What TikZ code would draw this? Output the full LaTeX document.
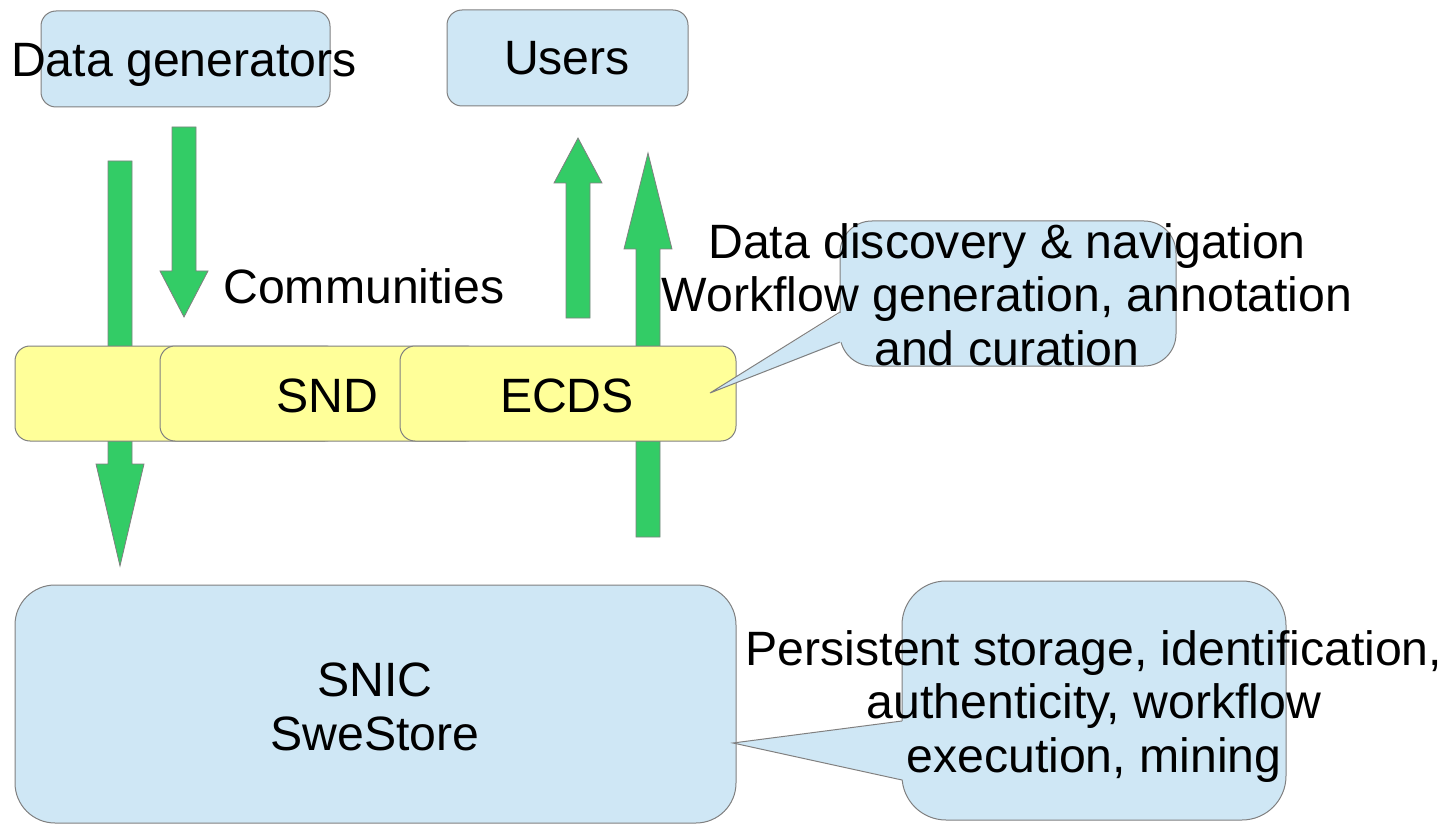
\documentclass[tikz,border=0pt]{standalone}
\usepackage{fontspec}
\setmainfont{Liberation Sans}
\usepackage{tikz}

\definecolor{boxblue}{RGB}{207,231,245}
\definecolor{boxyellow}{RGB}{255,255,153}
\definecolor{flowgreen}{RGB}{51,204,102}
\definecolor{edgegray}{RGB}{128,128,128}

\begin{document}
\begin{tikzpicture}[x=0.5pt, y=-0.5pt,
  every node/.style={font=\fontsize{24.1pt}{26.6pt}\selectfont},
  box/.style={draw=edgegray, line width=0.5pt, inner sep=0pt, rounded corners=7.5pt},
  bluebox/.style={box, fill=boxblue},
  yellowbox/.style={box, fill=boxyellow},
  flow/.style={fill=flowgreen, draw=edgegray, line width=0.4pt},
  pointer/.style={draw=edgegray, line width=0.5pt},
  txt/.style={inner sep=0pt, anchor=base, align=center}]
  \useasboundingbox (0,0) rectangle (1453,824);

  % Top boxes
  \node[bluebox, minimum width=144.5pt, minimum height=48pt] (gen) at (185.5,59) {};
  \node[bluebox, minimum width=120.5pt, minimum height=48pt] (users) at (567.5,58) {};

  % Green block arrows (behind the community boxes)
  % down, long: generators to SweStore
  \filldraw[flow] (108,161) -- (132,161) -- (132,464) -- (144,464) -- (120,566)
    -- (96,464) -- (108,464) -- cycle;
  % down, short: generators to communities
  \filldraw[flow] (172,127) -- (196,127) -- (196,271) -- (208,271) -- (184,317)
    -- (160,271) -- (172,271) -- cycle;
  % up, short: communities to users
  \filldraw[flow] (566,318) -- (590,318) -- (590,183) -- (602,183) -- (578,138)
    -- (554,183) -- (566,183) -- cycle;
  % up, long: SweStore to users
  \filldraw[flow] (636,537) -- (660,537) -- (660,249) -- (672,249) -- (648,153)
    -- (624,249) -- (636,249) -- cycle;

  % Community boxes, each one over the previous
  \node[yellowbox, minimum width=162.5pt, minimum height=47.5pt] (comm) at (177.5,393.5) {};
  \node[yellowbox, minimum width=160.5pt, minimum height=47.5pt] (snd) at (320.5,393.5) {};
  \node[yellowbox, minimum width=168pt, minimum height=47.5pt] (ecds) at (568,393.5) {};

  % Callout for the community layer
  \node[bluebox, rounded corners=16pt, minimum width=168pt, minimum height=72.5pt] (discall) at (1008,293.5) {};
  \coordinate (distip) at (710,393);
  \fill[boxblue] (distip) -- (842,312) -- (842,342) -- cycle;
  \draw[pointer] (840,312) -- (distip) -- (840,342);

  % Storage layer and its callout
  \node[bluebox, rounded corners=20pt, minimum width=360.5pt, minimum height=119pt] (snic) at (375.5,704) {};
  \node[bluebox, rounded corners=22pt, minimum width=192pt, minimum height=119.5pt] (storcall) at (1094,700.5) {};
  \coordinate (stortip) at (733,743);
  \fill[boxblue] (stortip) -- (904,721) -- (904,780) -- cycle;
  \draw[pointer] (902,721) -- (stortip) -- (902,780);

  % Texts on top (base = last line)
  \node[txt] (gentext) at (184,77) {Data generators};
  \node[txt] (userstext) at (567,75) {Users};
  \node[txt] (commtext) at (364,304) {Communities};
  \node[txt] (sndtext) at (327,412) {SND};
  \node[txt] (ecdstext) at (567,412) {ECDS};
  \node[txt] (distext) at (1007,365) {Data discovery \& navigation\\Workflow generation, annotation\\and curation};
  \node[txt] (snictext) at (375,750) {SNIC\\SweStore};
  \node[txt] (stortext) at (1094,772) {Persistent storage, identification,\\authenticity, workflow\\execution, mining};
\end{tikzpicture}
\end{document}
